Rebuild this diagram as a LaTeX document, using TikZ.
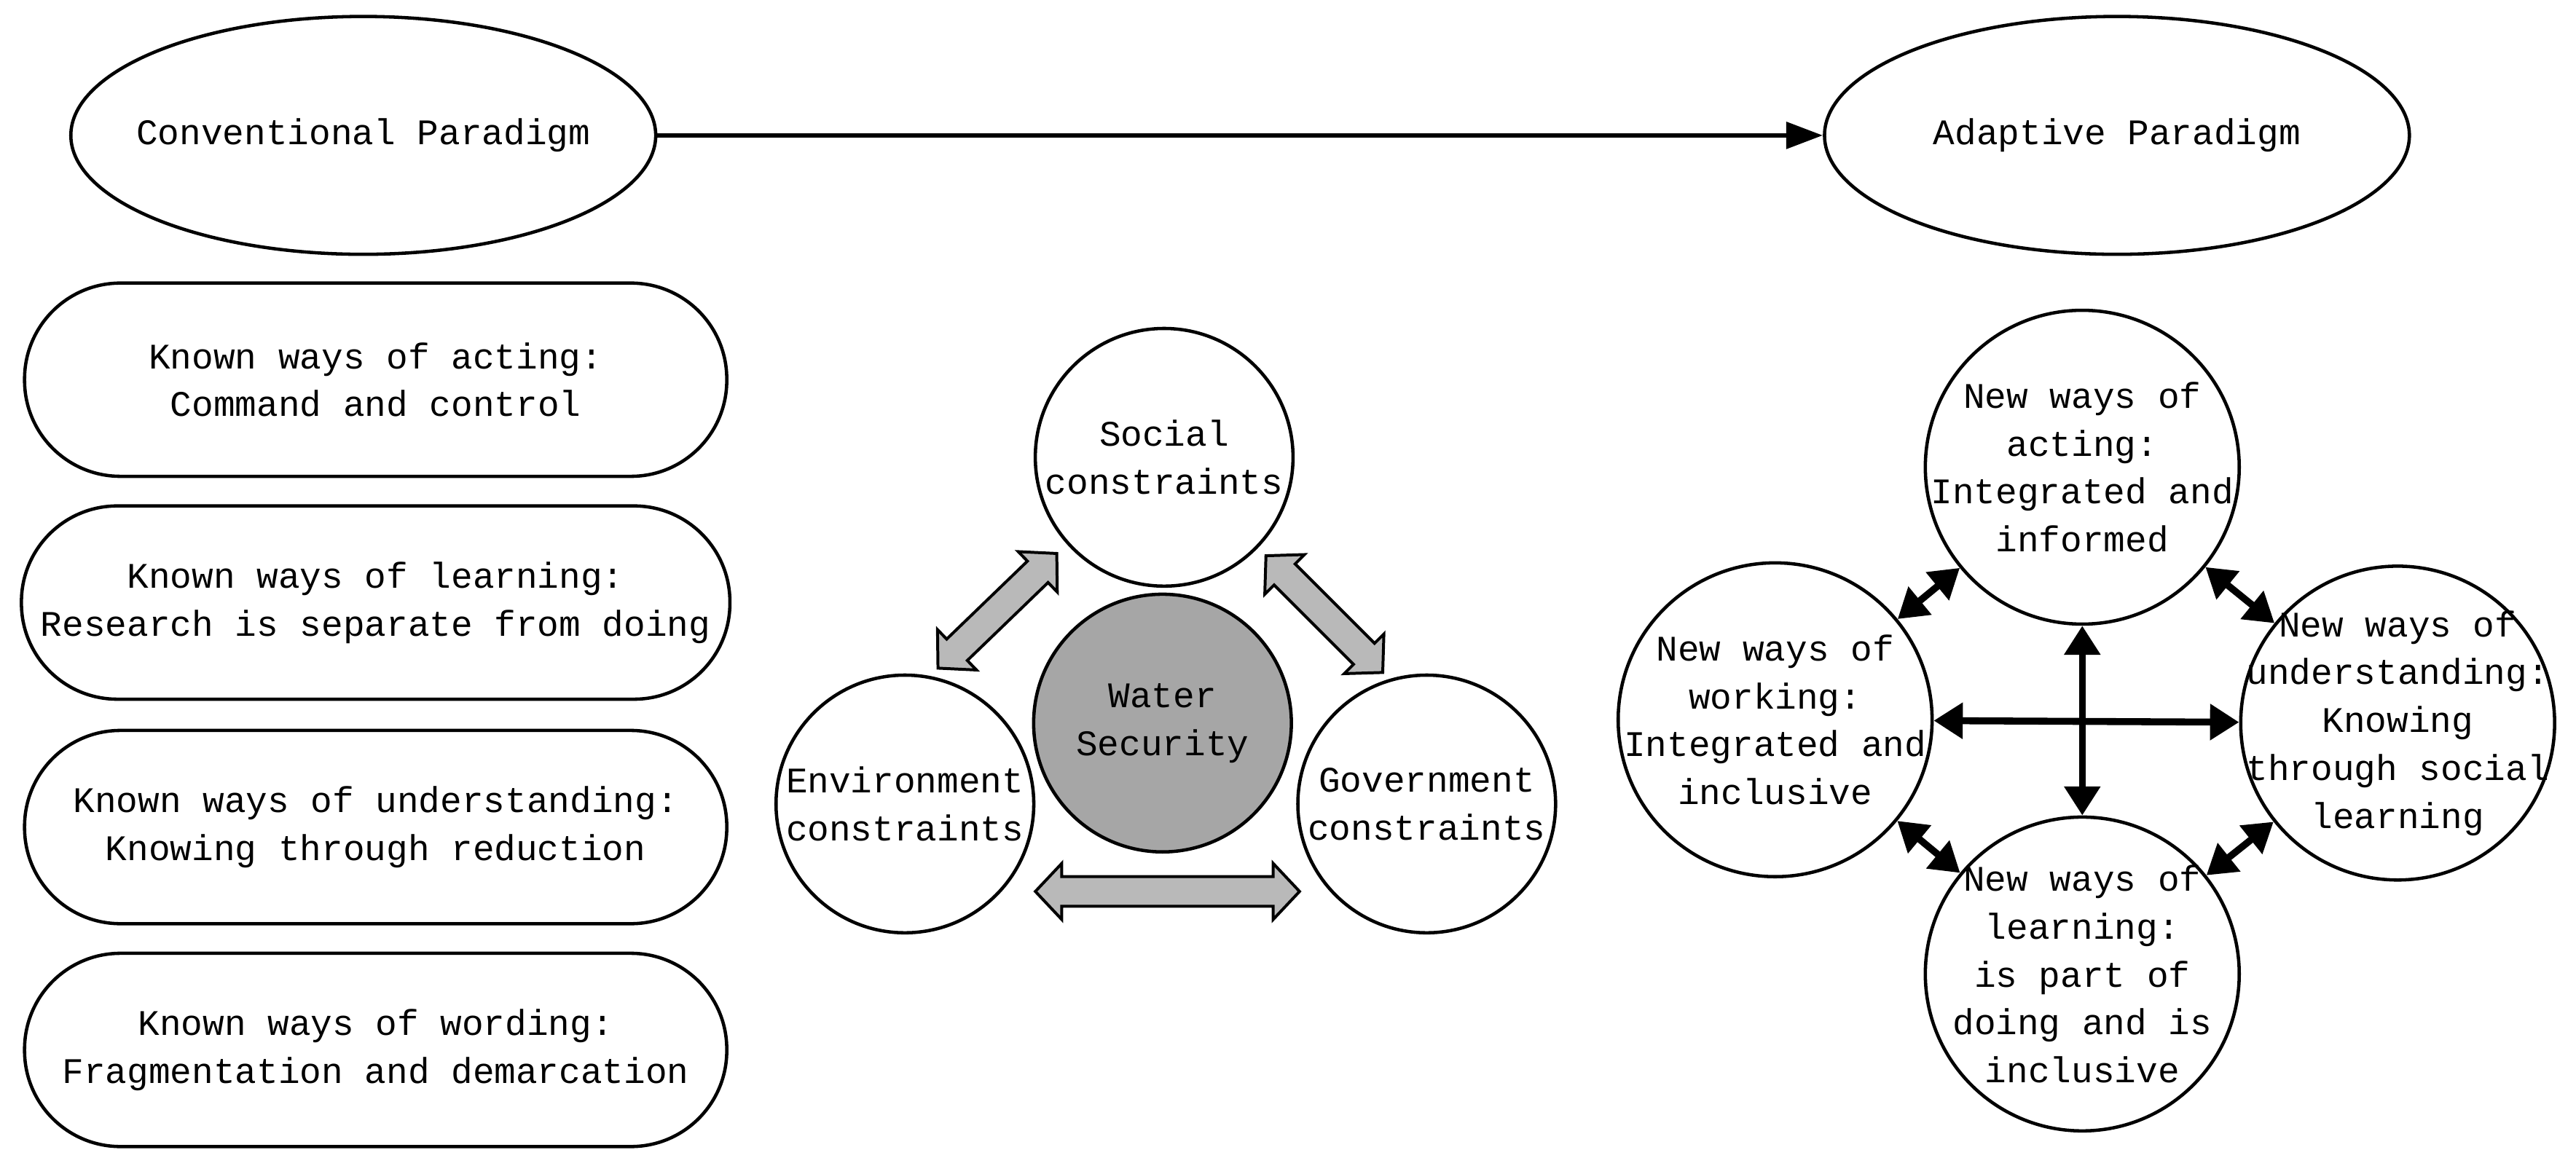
\documentclass[tikz,border=0pt]{standalone}
\usepackage{fontspec}
\setmainfont{Liberation Mono}
\usetikzlibrary{shapes.geometric,arrows.meta}
\newcommand\myblk[4]{%
  \begin{scope}[shift={(#1,#2)},rotate=#3]
  \filldraw[fill=gray!55,line width=0.5pt] (-#4/2,0) -- (-#4/2+16,-17) -- (-#4/2+16,-9) -- (#4/2-16,-9) -- (#4/2-16,-17) -- (#4/2,0) -- (#4/2-16,17) -- (#4/2-16,9) -- (-#4/2+16,9) -- (-#4/2+16,17) -- cycle;
  \end{scope}}
\begin{document}
\begin{tikzpicture}[x=0.01cm,y=-0.01cm,
  every node/.style={font=\fontsize{6.2pt}{8.25pt}\selectfont,align=center,line width=0.57pt},
  para/.style={draw,ellipse,inner sep=0pt,minimum width=3.54cm,minimum height=1.44cm},
  known/.style={draw,rounded corners=0.58cm,minimum width=4.25cm,minimum height=1.17cm},
  sc/.style={draw,circle,minimum size=1.56cm,inner sep=0pt},
  nw/.style={draw,circle,minimum size=1.9cm,inner sep=0pt},
  dbl/.style={{Triangle[length=5pt,width=6pt]}-{Triangle[length=5pt,width=6pt]},line width=1.2pt}]
\useasboundingbox (0,0) rectangle (1560,711);
\node[para] (conv) at (220,82) {};
\node at (conv) {Conventional Paradigm};
\node[para] (adap) at (1282,82) {};
\node at (adap) {Adaptive Paradigm};
\draw[-{Triangle[length=6.3pt,width=4.5pt]},line width=0.85pt] (conv) -- (adap);
\node[known] (k1) at (227.5,230) {Known ways of acting:\\Command and control};
\node[known] (k2) at (227.5,365) {Known ways of learning:\\Research is separate from doing};
\node[known] (k3) at (227.5,501) {Known ways of understanding:\\Knowing through reduction};
\node[known] (k4) at (227.5,636) {Known ways of wording:\\Fragmentation and demarcation};
\node[sc] (soc) at (705,277) {Social\\constraints};
\node[sc,fill=gray!70] (ws) at (704,438) {Water\\Security};
\node[sc] (env) at (548,487) {Environment\\constraints};
\node[sc] (gov) at (864,487) {Government\\constraints};
\myblk{604}{370}{44}{100}
\myblk{802}{372}{-45}{100}
\myblk{707}{540}{0}{160}
\node[nw] (top) at (1261,283) {};
\node at (top) {New ways of\\acting:\\Integrated and\\informed};
\node[nw] (left) at (1075,436) {};
\node at (left) {New ways of\\working:\\Integrated and\\inclusive};
\node[nw] (right) at (1452,438) {};
\node at (right) {New ways of\\understanding:\\Knowing\\through social\\learning};
\node[nw] (bot) at (1261,590) {};
\node at (bot) {New ways of\\learning:\\is part of\\doing and is\\inclusive};
\draw[dbl] (top) -- (left);
\draw[dbl] (top) -- (right);
\draw[dbl] (bot) -- (left);
\draw[dbl] (bot) -- (right);
\draw[dbl] (left) -- (right);
\draw[dbl] (top) -- (bot);
\end{tikzpicture}
\end{document}
